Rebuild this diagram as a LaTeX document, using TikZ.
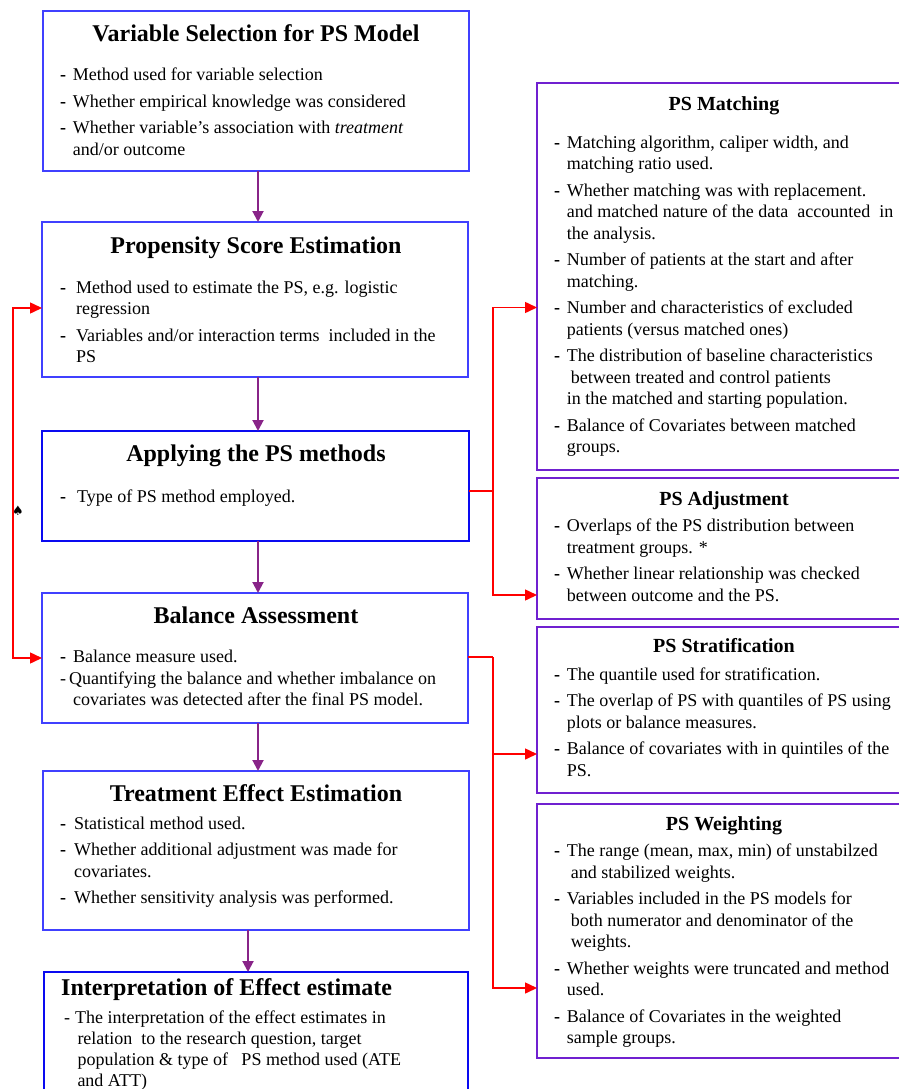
\documentclass[tikz,border=0pt]{standalone}
\usepackage{fontspec}
\setmainfont{Liberation Serif}
\newfontfamily\symfont{DejaVu Sans}
\usetikzlibrary{arrows.meta}
\definecolor{lblue}{RGB}{64,64,255}
\definecolor{dblue}{RGB}{10,10,240}
\definecolor{rpurple}{RGB}{112,32,208}
\definecolor{apurple}{RGB}{136,36,136}
\definecolor{rred}{RGB}{255,0,0}
\newlength\dashhang
\newcommand\dfirst[1]{\par\noindent\hangindent=\dashhang\hangafter=1\makebox[\dashhang][l]{\textbf{-}}#1}
\newcommand\dnext[1]{\par\vspace{5pt}\dfirst{#1}}
\newcommand\boxbody[3]{\parbox[t]{#1}{\fontsize{18}{21.5}\selectfont\setlength\dashhang{#2}#3}}
\tikzset{
  lbox/.style={draw=lblue, line width=2.2pt, anchor=north west, inner sep=0, outer sep=0},
  dbox/.style={draw=dblue, line width=2.4pt, anchor=north west, inner sep=0, outer sep=0},
  rbox/.style={draw=rpurple, line width=2.2pt, anchor=north west, inner sep=0, outer sep=0},
  ttl/.style={font=\fontsize{24}{28}\selectfont\bfseries, inner sep=0, anchor=base},
  rttl/.style={font=\fontsize{20}{24}\selectfont\bfseries, inner sep=0, anchor=base},
  txt/.style={inner sep=0, anchor=base west},
  parrow/.style={draw=apurple, line width=2pt, -{Triangle[length=11pt,width=11pt]}},
  rline/.style={draw=rred, line width=1.5pt},
  rarrow/.style={draw=rred, line width=1.5pt, -{Triangle[length=12pt,width=11pt]}},
}
\begin{document}
\begin{tikzpicture}[x=1pt,y=-1pt]
\useasboundingbox (0,0) rectangle (899,1089);
% left column boxes
\node[lbox, minimum width=426pt, minimum height=160pt] (box1) at (43,11) {};
\node[lbox, minimum width=426pt, minimum height=155pt] (box2) at (42,222) {};
\node[dbox, minimum width=427pt, minimum height=110pt] (box3) at (42,431) {};
\node[lbox, minimum width=426pt, minimum height=130pt] (box4) at (42,593) {};
\node[lbox, minimum width=426pt, minimum height=159pt] (box5) at (43,771) {};
\node[dbox, minimum width=424pt, minimum height=140pt] (box6) at (44,972) {};
% right column boxes
\node[rbox, minimum width=373pt, minimum height=387pt] (match) at (537,83) {};
\node[rbox, minimum width=373pt, minimum height=141pt] (adj) at (537,478) {};
\node[rbox, minimum width=373pt, minimum height=166pt] (strat) at (537,627) {};
\node[rbox, minimum width=373pt, minimum height=254pt] (weight) at (537,804) {};

% titles
\node[ttl] (t1) at (256,41.7) {Variable Selection for PS Model};
\node[ttl] (t2) at (256,253.3) {Propensity Score Estimation};
\node[ttl] (t3) at (256,461.7) {Applying the PS methods};
\node[ttl] (t4) at (256,623.3) {Balance Assessment};
\node[ttl] (t5) at (256,801.7) {Treatment Effect Estimation};
\node[ttl, anchor=base west] (t6) at (61,995) {Interpretation of Effect estimate};
\node[rttl] (rt1) at (724,110.7) {PS Matching};
\node[rttl] (rt2) at (724,505) {PS Adjustment};
\node[rttl] (rt3) at (724,652.7) {PS Stratification};
\node[rttl] (rt4) at (724,830) {PS Weighting};

% bodies
\node[txt] (b1) at (60,81) {\boxbody{400pt}{12.7pt}{%
\dfirst{Method used for variable selection}%
\dnext{Whether empirical knowledge was considered}%
\dnext{Whether variable’s association with \textit{treatment}\\and/or outcome}}};
\node[txt] (b2) at (60,293.3) {\boxbody{400pt}{16pt}{%
\dfirst{Method used to estimate the PS, e.g. logistic\\regression}%
\dnext{Variables and/or interaction terms\ \ included in the\\PS}}};
\node[txt] (b3) at (60,502.7) {\boxbody{400pt}{17pt}{%
\dfirst{Type of PS method employed.}}};
\node[txt] (b4) at (60,662.7) {\boxbody{400pt}{13pt}{%
\dfirst{Balance measure used.}%
\par\noindent\hangindent=13pt\hangafter=1\makebox[9pt][l]{-}Quantifying the balance and whether imbalance on\\covariates was detected after the final PS model.}};
\node[txt] (b5) at (60,829.3) {\boxbody{400pt}{14pt}{%
\dfirst{Statistical method used.}%
\dnext{Whether additional adjustment was made for\\covariates.}%
\dnext{Whether sensitivity analysis was performed.}}};
\node[txt] (b6) at (64,1023.3) {\parbox[t]{400pt}{\fontsize{18}{21}\selectfont
\noindent\hangindent=13.3pt\hangafter=1\makebox[11pt][l]{-}The interpretation of the effect estimates in\\relation\ \ to the research question, target\\population \& type of\ \ \ PS method used (ATE\\and ATT)}};

\node[txt] (rb1) at (554,148) {\boxbody{400pt}{12.7pt}{%
\dfirst{Matching algorithm, caliper width, and\\matching ratio used.}%
\dnext{Whether matching was with replacement.\\and matched nature of the data\ \ accounted\ \ in\\the analysis.}%
\dnext{Number of patients at the start and after\\matching.}%
\dnext{Number and characteristics of excluded\\patients (versus matched ones)}%
\dnext{The distribution of baseline characteristics\\\hspace*{4pt}between treated and control patients\\in the matched and starting population.}%
\dnext{Balance of Covariates between matched\\groups.}}};
\node[txt] (rb2) at (554,531.7) {\boxbody{400pt}{12.7pt}{%
\dfirst{Overlaps of the PS distribution between\\treatment groups. *}%
\dnext{Whether linear relationship was checked\\between outcome and the PS.}}};
\node[txt] (rb3) at (554,680) {\boxbody{400pt}{12.7pt}{%
\dfirst{The quantile used for stratification.}%
\dnext{The overlap of PS with quantiles of PS using\\plots or balance measures.}%
\dnext{Balance of covariates with in quintiles of the\\PS.}}};
\node[txt] (rb4) at (554,856.7) {\boxbody{400pt}{12.7pt}{%
\dfirst{The range (mean, max, min) of unstabilzed\\\hspace*{4pt}and stabilized weights.}%
\dnext{Variables included in the PS models for\\\hspace*{4pt}both numerator and denominator of the\\\hspace*{4pt}weights.}%
\dnext{Whether weights were truncated and method\\used.}%
\dnext{Balance of Covariates in the weighted\\sample groups.}}};

% spade
\node[inner sep=0, font=\symfont\fontsize{13}{14}\selectfont] (spade) at (18,511) {♠};

% purple flow arrows
\coordinate (ax) at (258,0);
\coordinate (bx) at (248,0);
\draw[parrow] (box1.south -| ax) -- (box2.north -| ax);
\draw[parrow] (box2.south -| ax) -- (box3.north -| ax);
\draw[parrow] (box3.south -| ax) -- (box4.north -| ax);
\draw[parrow] (box4.south -| ax) -- (box5.north -| ax);
\draw[parrow] (box5.south -| bx) -- (box6.north -| bx);

% left red loop
\coordinate (lx) at (13,480);
\draw[rline, {Triangle[length=12pt,width=11pt]}-{Triangle[length=12pt,width=11pt]}]
  ([yshift=-8.5pt]box2.west) -| (lx) |- (box4.west);

% right red bus
\coordinate (j3) at (493,491);
\coordinate (j4) at (493,657);
\draw[rline] (box3.east |- j3) -- (j3);
\draw[rline] (box4.east |- j4) -- (j4);
\draw[rarrow] (j3) |- ([yshift=-31pt]match.west);
\draw[rarrow] (j3) |- ([yshift=-46.5pt]adj.west);
\draw[rarrow] (j4) |- ([yshift=-44pt]strat.west);
\draw[rarrow] (j4) |- ([yshift=-57pt]weight.west);
\end{tikzpicture}
\end{document}
